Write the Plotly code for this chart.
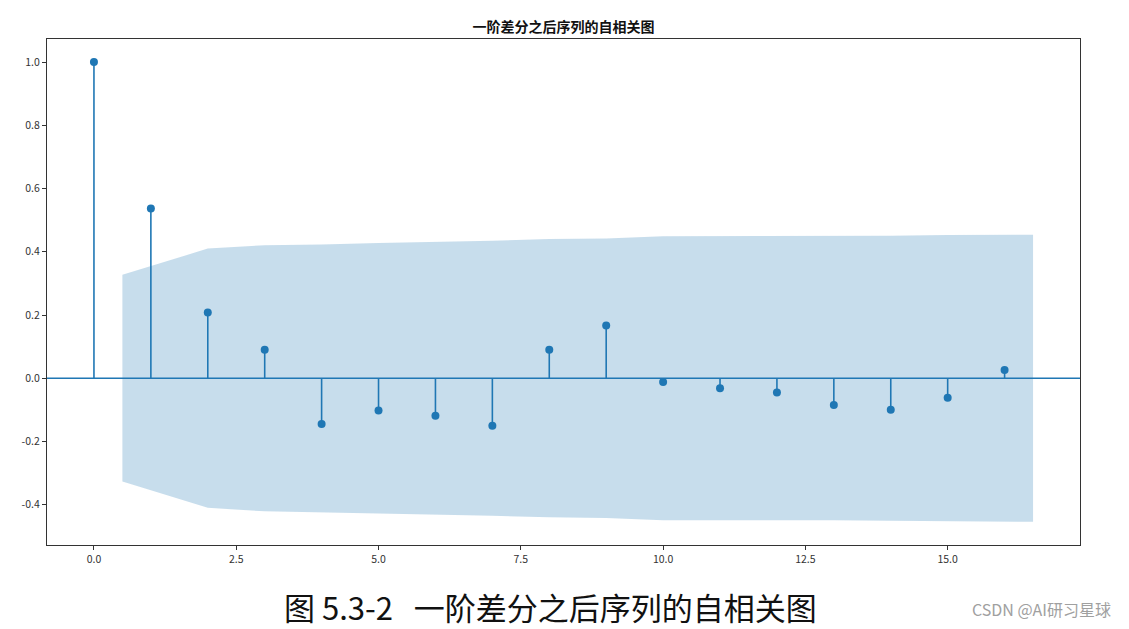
import plotly.graph_objects as go

lags = list(range(0, 17))
acf_values = [1.0, 0.537, 0.208, 0.090, -0.145, -0.102, -0.119, -0.150,
              0.090, 0.167, -0.012, -0.032, -0.045, -0.085, -0.100, -0.062, 0.026]
# upper bound of the confidence band at lags 1..16 (symmetric about 0)
conf_upper = [0.327, 0.410, 0.421, 0.423, 0.428, 0.431, 0.435, 0.440,
              0.442, 0.449, 0.449, 0.449, 0.449, 0.451, 0.453, 0.454]
x_ticks = [0.0, 2.5, 5.0, 7.5, 10.0, 12.5, 15.0]
y_ticks = [-0.4, -0.2, 0.0, 0.2, 0.4, 0.6, 0.8, 1.0]

title_text = "一阶差分之后序列的自相关图"
caption_text = "图 5.3-2   一阶差分之后序列的自相关图"
watermark_text = "CSDN @AI研习星球"

C0 = "#1f77b4"
FONT = "Noto Sans CJK SC"

fig = go.Figure()

# confidence band
band_x = [float(l) for l in lags[1:]]
band_x[0] -= 0.5
band_x[-1] += 0.5
fig.add_trace(go.Scatter(
    x=band_x + band_x[::-1],
    y=conf_upper + [-v for v in conf_upper[::-1]],
    fill="toself", fillcolor="rgba(31,119,180,0.25)",
    line=dict(width=0), mode="lines", hoverinfo="skip", showlegend=False))

# stems
sx, sy = [], []
for l, v in zip(lags, acf_values):
    sx += [l, l, None]
    sy += [0, v, None]
fig.add_trace(go.Scatter(x=sx, y=sy, mode="lines",
                         line=dict(color=C0, width=1.6), showlegend=False))
# markers
fig.add_trace(go.Scatter(x=lags, y=acf_values, mode="markers",
                         marker=dict(color=C0, size=8), showlegend=False))

# zero line
fig.add_shape(type="line", xref="paper", x0=0, x1=1, yref="y", y0=0, y1=0,
              line=dict(color=C0, width=1.4))

fig.update_layout(
    width=1129, height=629,
    margin=dict(l=47, r=49, t=39, b=84),
    paper_bgcolor="white", plot_bgcolor="white",
    font=dict(family=FONT, color="#222", size=10),
    showlegend=False,
    title=dict(text=title_text, x=0.4992, xanchor="center", y=1 - 27 / 629,
               yanchor="middle",
               font=dict(family=FONT, size=14, color="#111", weight="bold")),
)
fig.update_xaxes(range=[-0.825, 17.325], tickvals=x_ticks,
                 ticktext=[f"{t:.1f}" for t in x_ticks],
                 showgrid=False, zeroline=False, showline=True, mirror=True,
                 linecolor="#333", linewidth=1.2, ticks="outside", ticklen=4,
                 tickcolor="#333", tickfont=dict(size=10.5, color="#333"))
fig.update_yaxes(range=[-0.5275, 1.073], tickvals=y_ticks,
                 ticktext=[f"{t:.1f}" for t in y_ticks],
                 showgrid=False, zeroline=False, showline=True, mirror=True,
                 linecolor="#333", linewidth=1.2, ticks="outside", ticklen=4,
                 tickcolor="#333", tickfont=dict(size=10.5, color="#333"))

fig.add_annotation(text=caption_text, xref="paper", yref="paper",
                   x=(550 - 47) / 1033, y=-(606 - 545) / 506,
                   xanchor="center", yanchor="middle", showarrow=False,
                   font=dict(family=FONT, size=31, color="#111"))
fig.add_annotation(text=watermark_text, xref="paper", yref="paper",
                   x=(1113 - 47) / 1033, y=-(609 - 545) / 506,
                   xanchor="right", yanchor="middle", showarrow=False,
                   font=dict(family=FONT, size=16, color="#a0a0a0"))

fig.write_html("out.html")
